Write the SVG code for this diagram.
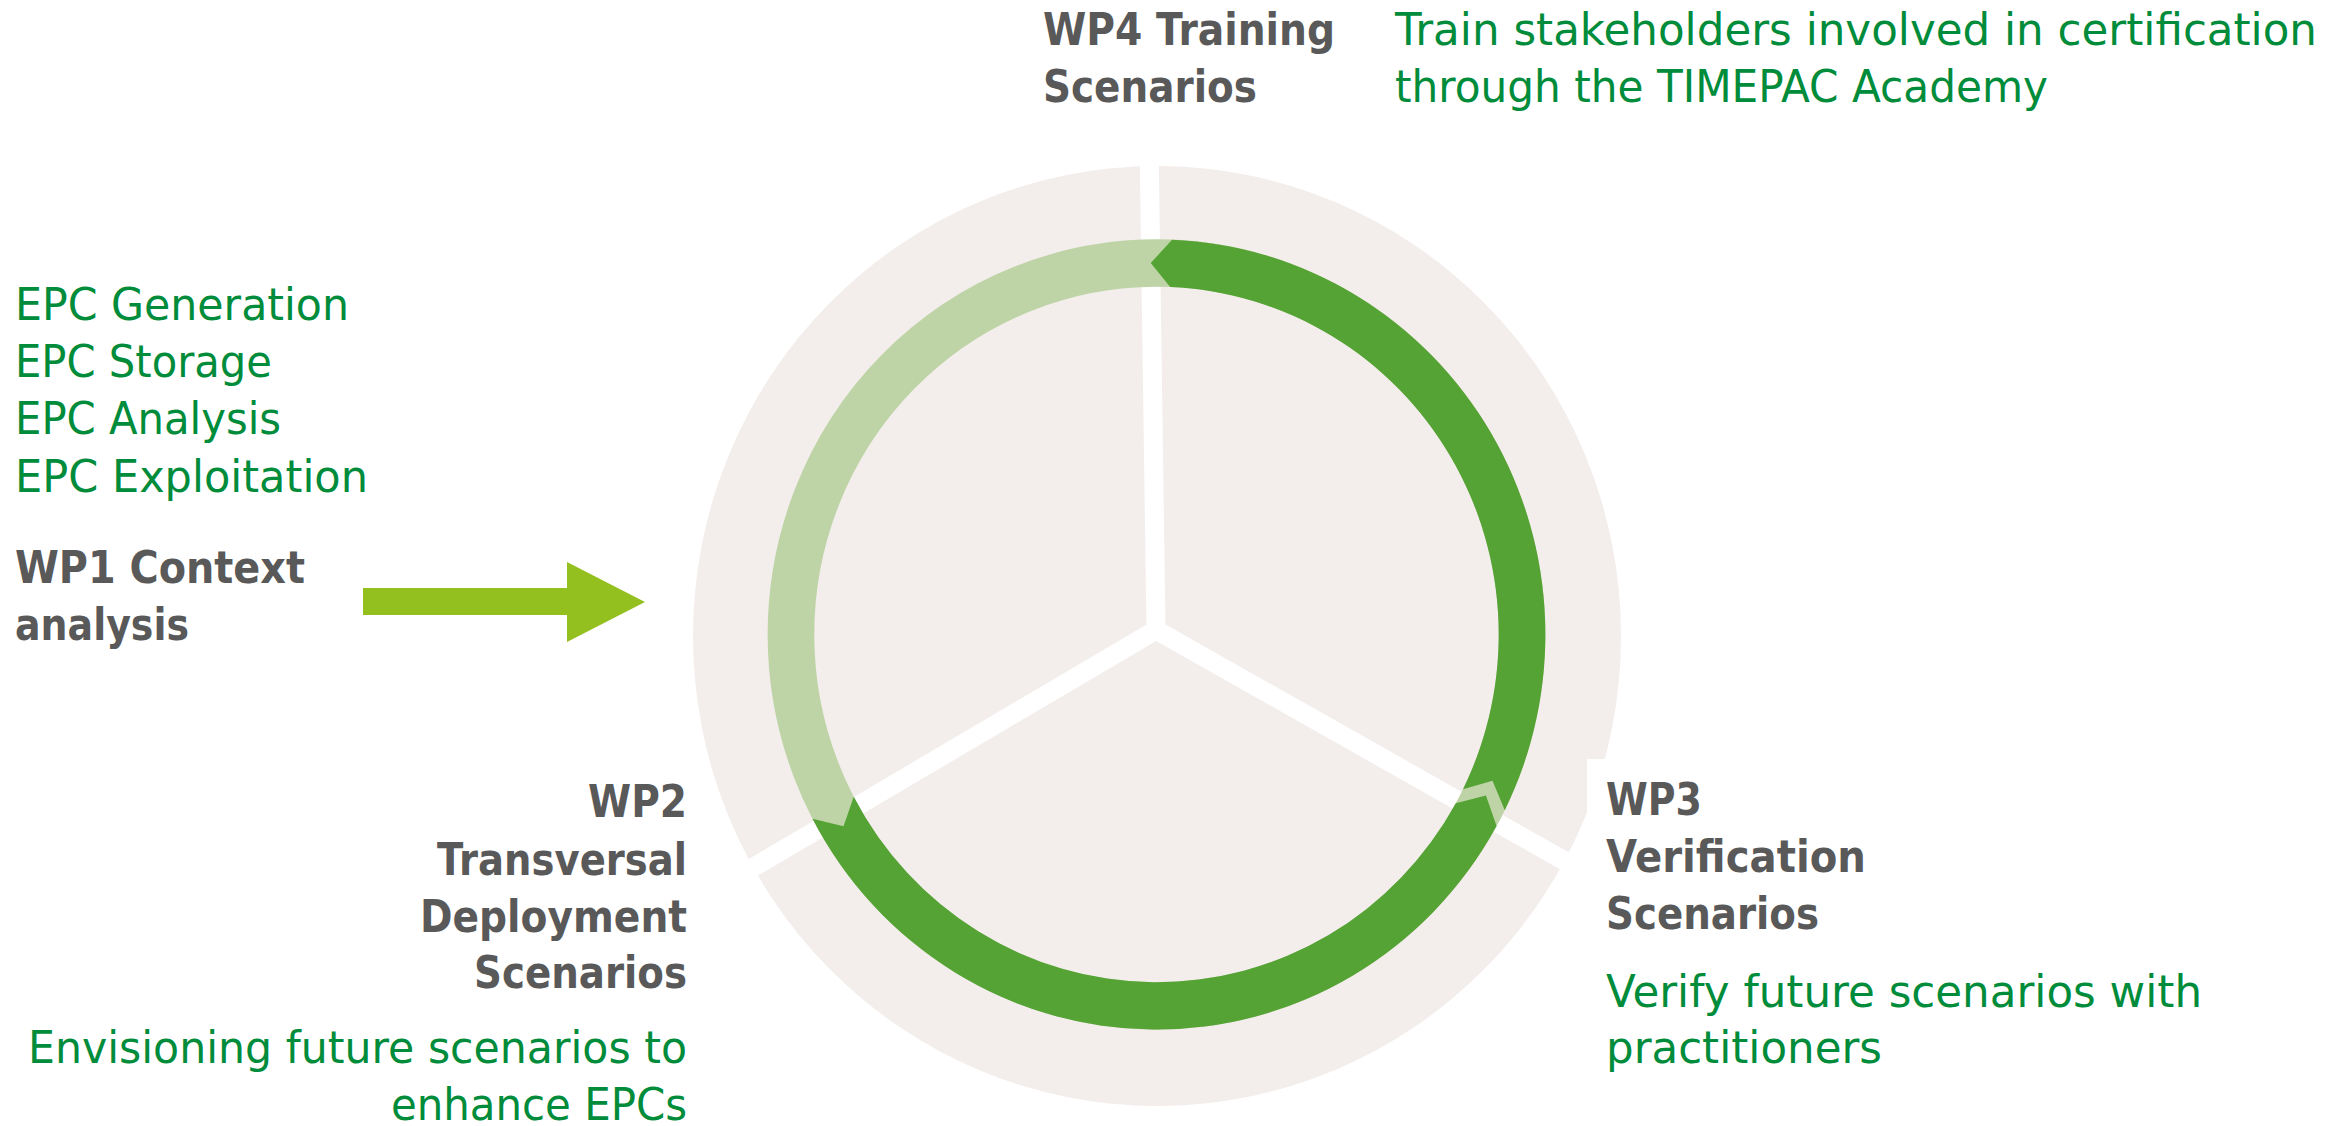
<svg xmlns="http://www.w3.org/2000/svg" width="2348" height="1126" viewBox="0 0 2348 1126">
<style>
text{font-family:"DejaVu Sans",Verdana,"Liberation Sans",sans-serif;font-size:44px}
.h{font-weight:bold;fill:#595959}
.g{fill:#008C3A}
.spoke{stroke:#FFFFFF;stroke-width:19;fill:none}
</style>
<rect width="2348" height="1126" fill="#FFFFFF"/>
<g id="cycle">
<ellipse cx="1157" cy="636" rx="464" ry="470" fill="#F3EEEC"/>
<rect x="1587" y="759" width="120" height="300" fill="#FFFFFF"/>
<line class="spoke" x1="1156" y1="630" x2="1149" y2="140"/>
<line class="spoke" x1="1156" y1="630" x2="1609" y2="886"/>
<line class="spoke" x1="1156" y1="630" x2="708" y2="894"/>
<g transform="translate(1156.5,634.5) scale(0.992,1.008)">
<circle r="368.5" fill="none" stroke="#BED4A6" stroke-width="47"/>
<path fill="#55A235" d="M -346.8,182.8 L -315.5,190.3 L -305.2,160.9 A 345 345 0 0 0 301.7,167.3 L 332.1,159.8 L 342.8,190.0 A 392 392 0 0 1 -346.8,182.8 Z"/>
<path fill="#55A235" d="M 351.1,174.3 L 338.7,145.2 L 309.0,153.4 A 345 345 0 0 0 13.8,-344.7 L -5.8,-368.5 L 15.7,-391.7 A 392 392 0 0 1 351.1,174.3 Z"/>
</g>
</g>
<g id="wp1">
<text class="g" x="15" y="320" textLength="334" lengthAdjust="spacingAndGlyphs">EPC Generation</text>
<text class="g" x="15" y="377" textLength="257" lengthAdjust="spacingAndGlyphs">EPC Storage</text>
<text class="g" x="15" y="434" textLength="266" lengthAdjust="spacingAndGlyphs">EPC Analysis</text>
<text class="g" x="15" y="492" textLength="353" lengthAdjust="spacingAndGlyphs">EPC Exploitation</text>
<text class="h" x="15" y="583" textLength="290" lengthAdjust="spacingAndGlyphs">WP1 Context</text>
<text class="h" x="15" y="640" textLength="174" lengthAdjust="spacingAndGlyphs">analysis</text>
</g>
<g id="wp2">
<text class="h" x="588" y="817" textLength="99" lengthAdjust="spacingAndGlyphs">WP2</text>
<text class="h" x="437" y="875" textLength="250" lengthAdjust="spacingAndGlyphs">Transversal</text>
<text class="h" x="420" y="932" textLength="267" lengthAdjust="spacingAndGlyphs">Deployment</text>
<text class="h" x="474" y="988" textLength="213" lengthAdjust="spacingAndGlyphs">Scenarios</text>
<text class="g" x="28" y="1063" textLength="659" lengthAdjust="spacingAndGlyphs">Envisioning future scenarios to</text>
<text class="g" x="391" y="1120" textLength="296" lengthAdjust="spacingAndGlyphs">enhance EPCs</text>
</g>
<g id="wp3">
<text class="h" x="1606" y="815" textLength="96" lengthAdjust="spacingAndGlyphs">WP3</text>
<text class="h" x="1606" y="872" textLength="260" lengthAdjust="spacingAndGlyphs">Verification</text>
<text class="h" x="1606" y="929" textLength="213" lengthAdjust="spacingAndGlyphs">Scenarios</text>
<text class="g" x="1606" y="1007" textLength="596" lengthAdjust="spacingAndGlyphs">Verify future scenarios with</text>
<text class="g" x="1606" y="1063" textLength="276" lengthAdjust="spacingAndGlyphs">practitioners</text>
</g>
<g id="wp4">
<text class="h" x="1043" y="45" textLength="292" lengthAdjust="spacingAndGlyphs">WP4 Training</text>
<text class="h" x="1043" y="102" textLength="214" lengthAdjust="spacingAndGlyphs">Scenarios</text>
<text class="g" x="1395" y="45" textLength="922" lengthAdjust="spacingAndGlyphs">Train stakeholders involved in certification</text>
<text class="g" x="1395" y="102" textLength="653" lengthAdjust="spacingAndGlyphs">through the TIMEPAC Academy</text>
</g>
<g id="connectors">
<path d="M 363,588 L 567,588 L 567,562 L 645,602 L 567,642 L 567,615 L 363,615 Z" fill="#93C01F"/>
</g>
</svg>
